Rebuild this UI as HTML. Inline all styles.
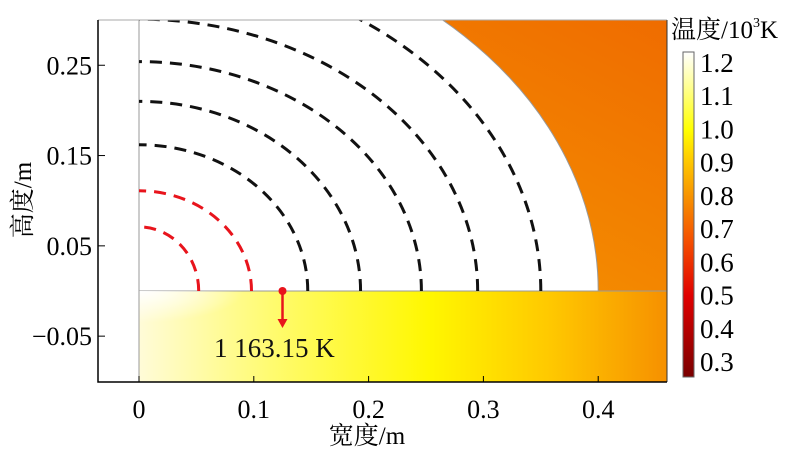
<!DOCTYPE html>
<html><head><meta charset="utf-8"><style>
body{margin:0;background:#fff;width:800px;height:447px;overflow:hidden}
text{font-family:'Liberation Serif','Times New Roman','DejaVu Serif','Noto Serif CJK SC',serif}
</style></head><body>
<svg width="800" height="447">
<defs>
<linearGradient id="og" x1="0" y1="1" x2="1" y2="0"><stop offset="0" stop-color="#f7a000"/><stop offset="1" stop-color="#ef6c00"/></linearGradient>
<linearGradient id="bg" x1="0" y1="0" x2="1" y2="0"><stop offset="0" stop-color="#fffbd8"/><stop offset="0.25" stop-color="#fffb70"/><stop offset="0.55" stop-color="#fff700"/><stop offset="0.78" stop-color="#ffc800"/><stop offset="1" stop-color="#f69000"/></linearGradient>
<radialGradient id="wg" cx="0" cy="0" r="1" gradientUnits="objectBoundingBox"><stop offset="0" stop-color="#fff" stop-opacity="1"/><stop offset="0.35" stop-color="#fff" stop-opacity="0"/></radialGradient>
<linearGradient id="cb" x1="0" y1="1" x2="0" y2="0"><stop offset="0" stop-color="#7a0000"/><stop offset="0.25" stop-color="#e00000"/><stop offset="0.42" stop-color="#f55000"/><stop offset="0.55" stop-color="#f79000"/><stop offset="0.68" stop-color="#ffd000"/><stop offset="0.76" stop-color="#ffff00"/><stop offset="0.9" stop-color="#ffff99"/><stop offset="1" stop-color="#ffffff"/></linearGradient>
<clipPath id="pc"><rect x="98" y="20" width="569" height="362"/></clipPath>
</defs>
<g id="plot"></g>
</svg>
<script>
const arcRx=[0.052,0.098,0.147,0.193,0.246,0.295,0.35];
const arcRy=[0.071,0.111,0.162,0.21,0.254,0.301,0.36];
const arcColor=["#e8141c","#e8141c","#111","#111","#111","#111","#111"];
const xTicks=[0,0.1,0.2,0.3,0.4];
const xTickLabels=["0","0.1","0.2","0.3","0.4"];
const yTicks=[0.25,0.15,0.05,-0.05];
const yTickLabels=["0.25","0.15","0.05","\u22120.05"];
const cbTicks=[1.2,1.1,1.0,0.9,0.8,0.7,0.6,0.5,0.4,0.3];
const cbLabels=["1.2","1.1","1.0","0.9","0.8","0.7","0.6","0.5","0.4","0.3"];
const probeX=0.125, probeLabel="1 163.15 K", outerR=0.4;
const NS="http://www.w3.org/2000/svg";
const X=v=>139+v*1148, Y=v=>291-v*903;
const g=document.getElementById('plot');
function mk(t,a,p){const e=document.createElementNS(NS,t);for(const k in a)e.setAttribute(k,a[k]);(p||g).appendChild(e);return e;}
const clip=mk('g',{'clip-path':'url(#pc)'});


let r=mk('rect',{x:X(0),y:20,width:667-X(0),height:Y(0)-20,fill:'url(#og)'},clip);


let w=mk('path',{d:`M${X(0)},${Y(0)} L${X(outerR)},${Y(0)} A${outerR*1148},${outerR*903} 0 0 0 ${X(0)},${Y(outerR)} Z`,fill:'#fff',stroke:'#999','stroke-width':1},clip);


let b=mk('rect',{x:X(0),y:Y(0),width:667-X(0),height:382-Y(0),fill:'url(#bg)',stroke:'#999','stroke-width':1},clip);


mk('rect',{x:X(0),y:Y(0),width:300,height:382-Y(0),fill:'url(#wg)'},clip);
mk('line',{x1:X(0),y1:20,x2:X(0),y2:382,stroke:'#999','stroke-width':1},clip);
mk('line',{x1:98,y1:20,x2:667,y2:20,stroke:'#aaa','stroke-width':1});
mk('line',{x1:667,y1:20,x2:667,y2:382,stroke:'#333','stroke-width':1});
arcRx.forEach((rx,i)=>{const ry=arcRy[i];
 const p=mk('path',{d:`M${X(rx)},${Y(0)} A${rx*1148},${ry*903} 0 0 0 ${X(0)},${Y(ry)}`,fill:'none',stroke:arcColor[i],'stroke-width':3,'stroke-dasharray':'12 8'},clip);
 
 });
mk('circle',{cx:X(probeX),cy:Y(0),r:4,fill:'#e8141c'});
mk('line',{x1:X(probeX),y1:Y(0),x2:X(probeX),y2:Y(0)+30,stroke:'#e8141c','stroke-width':2.5});
mk('path',{d:`M${X(probeX)-5},${Y(0)+28} L${X(probeX)+5},${Y(0)+28} L${X(probeX)},${Y(0)+37} Z`,fill:'#e8141c'});
let pt=mk('text',{x:214,y:357,'font-size':27,fill:'#111'});pt.textContent=probeLabel;


mk('path',{d:'M98,20 L98,382 L667,382',fill:'none',stroke:'#000','stroke-width':1.5});
xTicks.forEach((v,i)=>{mk('line',{x1:X(v),y1:382,x2:X(v),y2:376,stroke:'#000'});
 const t=mk('text',{x:X(v),y:418,'font-size':26,'text-anchor':'middle'});t.textContent=xTickLabels[i];
 
 });
yTicks.forEach((v,i)=>{mk('line',{x1:98,y1:Y(v),x2:105,y2:Y(v),stroke:'#000'});
 const t=mk('text',{x:92,y:Y(v)+9,'font-size':26,'text-anchor':'end'});t.textContent=yTickLabels[i];
 
 });
let xt=mk('text',{x:367,y:444,'font-size':25,'text-anchor':'middle'});xt.textContent='宽度/m';


let yt=mk('text',{x:0,y:0,'font-size':25,'text-anchor':'middle',transform:'translate(31,200) rotate(-90)'});yt.textContent='高度/m';


const CY=v=>63+(1.2-v)/0.9*299;
let cbr=mk('rect',{x:683,y:52,width:11,height:325,fill:'url(#cb)',stroke:'#666','stroke-width':1});


cbTicks.forEach((v,i)=>{const t=mk('text',{x:700,y:CY(v)+9,'font-size':27});t.textContent=cbLabels[i];
 
 });
let ct=mk('text',{x:671,y:38,'font-size':25});ct.innerHTML='温度/10<tspan font-size="14" dy="-11">3</tspan><tspan dy="11">K</tspan>';


</script>
</body></html>
